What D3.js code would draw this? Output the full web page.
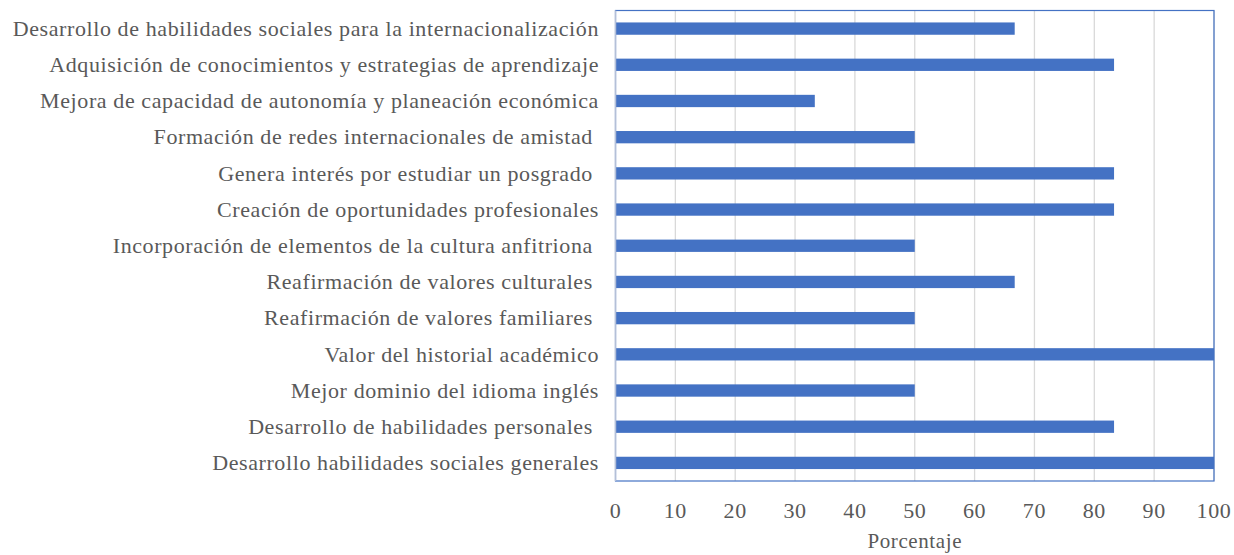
<!DOCTYPE html>
<html>
<head>
<meta charset="utf-8">
<script src="https://cdn.jsdelivr.net/npm/d3@7"></script>
<style>
  body { margin: 0; background: #fff; }
  svg { display: block; }
</style>
</head>
<body>
<div id="chart"></div>
<script>
var categories = [
  'Desarrollo de habilidades sociales para la internacionalización',
  'Adquisición de conocimientos y estrategias de aprendizaje',
  'Mejora de capacidad de autonomía y planeación económica',
  'Formación de redes internacionales de amistad ',
  'Genera interés por estudiar un posgrado ',
  'Creación de oportunidades profesionales',
  'Incorporación de elementos de la cultura anfitriona ',
  'Reafirmación de valores culturales ',
  'Reafirmación de valores familiares ',
  'Valor del historial académico',
  'Mejor dominio del idioma inglés',
  'Desarrollo de habilidades personales ',
  'Desarrollo habilidades sociales generales'
]
var values = [66.7, 83.3, 33.3, 50, 83.3, 83.3, 50, 66.7, 50, 100, 50, 83.3, 100]
var xTicks = [0, 10, 20, 30, 40, 50, 60, 70, 80, 90, 100]
var xTitle = 'Porcentaje'

var w = 1234
var h = 555
var margins = { left: 615.5, right: 20, top: 10.5, bottom: 74 }

var svg = d3.select('#chart').append('svg')
  .attr('width', w)
  .attr('height', h)

var x = d3.scaleLinear().domain([0, 100]).range([margins.left, w - margins.right])
var y = d3.scaleBand().domain(categories).range([margins.top, h - margins.bottom]).paddingInner(0.66).paddingOuter(0.33)

var font = '"Liberation Serif", "Times New Roman", serif'

// grid lines
xTicks.forEach(function (t) {
  if (t === 0) return
  svg.append('line')
    .attr('x1', x(t)).attr('x2', x(t))
    .attr('y1', margins.top).attr('y2', h - margins.bottom)
    .attr('stroke', '#d9d9d9')
    .attr('stroke-width', 1.3)
})

// bars
categories.forEach(function (c, i) {
  svg.append('rect')
    .attr('x', x(0))
    .attr('y', y(c))
    .attr('width', x(values[i]) - x(0))
    .attr('height', y.bandwidth())
    .attr('fill', '#4472c4')
})

// plot border
svg.append('rect')
  .attr('x', margins.left)
  .attr('y', margins.top)
  .attr('width', w - margins.right - margins.left)
  .attr('height', h - margins.bottom - margins.top)
  .attr('fill', 'none')
  .attr('stroke', '#4472c4')
  .attr('stroke-width', 1.2)

// left axis line
svg.append('line')
  .attr('x1', margins.left).attr('x2', margins.left)
  .attr('y1', margins.top).attr('y2', h - margins.bottom)
  .attr('stroke', '#b4c0d8')
  .attr('stroke-width', 1.5)

// category labels
categories.forEach(function (c) {
  svg.append('text').text(c)
    .attr('x', 599)
    .attr('y', y(c) + y.bandwidth() / 2)
    .attr('dy', '0.33em')
    .attr('text-anchor', 'end')
    .attr('fill', '#595959')
    .style('font-family', font)
    .style('font-size', '22px')
    .style('letter-spacing', '0.6px')
    .style('white-space', 'pre')
})

// tick labels
xTicks.forEach(function (t) {
  svg.append('text').text(t)
    .attr('x', x(t))
    .attr('y', 518)
    .attr('text-anchor', 'middle')
    .attr('fill', '#595959')
    .style('font-family', font)
    .style('font-size', '22px')
    .style('letter-spacing', '0.6px')
})

svg.append('text').text(xTitle)
  .attr('x', (x(0) + x(100)) / 2)
  .attr('y', 548)
  .attr('text-anchor', 'middle')
  .attr('fill', '#595959')
  .style('font-family', font)
  .style('font-size', '21px')
  .style('letter-spacing', '0.6px')
</script>
</body>
</html>
